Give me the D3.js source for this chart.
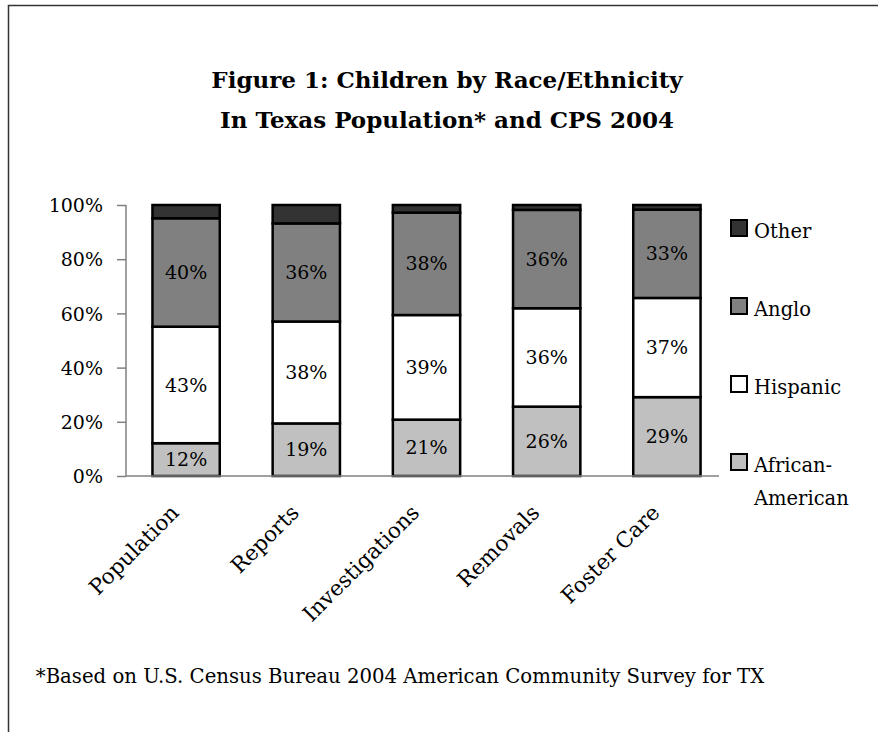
<!DOCTYPE html>
<html>
<head>
<meta charset="utf-8">
<script src="https://cdn.jsdelivr.net/npm/d3@7"></script>
<style>
  body { margin: 0; background: #fff; }
  svg text { font-family: "Palatino Linotype", "Book Antiqua", Palatino, "DejaVu Serif", serif; }
</style>
</head>
<body>
<div class="canvas"></div>
<script>
// categories and series (percent of children)
const categories = ['Population', 'Reports', 'Investigations', 'Removals', 'Foster Care'];
const africanAmerican = [12.1, 19.4, 20.8, 25.6, 29.1];
const hispanic = [43.0, 37.6, 38.6, 36.3, 36.6];
const anglo = [40.0, 36.2, 37.8, 36.3, 32.6];
const other = [4.9, 6.8, 2.8, 1.8, 1.7];
const seriesNames = ['African-American', 'Hispanic', 'Anglo', 'Other'];
const yTicks = [0, 20, 40, 60, 80, 100];

const titleLines = ['Figure 1: Children by Race/Ethnicity', 'In Texas Population* and CPS 2004'];
const footnote = '*Based on U.S. Census Bureau 2004 American Community Survey for TX';

const width = 878, height = 732;
const margin = {top: 205, left: 126, bottom: 256, right: 152};

const svg = d3.select('.canvas')
    .append('svg')
    .attr('width', width)
    .attr('height', height);

// frame lines (left and top)
svg.append('path')
    .attr('d', `M8.5,${height} V5.5 H${width}`)
    .attr('fill', 'none')
    .attr('stroke', '#333')
    .attr('stroke-width', 1.5);

// title
svg.append('g').selectAll('text')
    .data(titleLines)
    .enter().append('text')
    .attr('x', 447)
    .attr('y', (d, i) => 88 + i * 40)
    .attr('text-anchor', 'middle')
    .attr('font-weight', 'bold')
    .attr('font-size', 23)
    .text(d => d);

// table rows for stacking
const table = categories.map((c, i) => ({
    name: c,
    'African-American': africanAmerican[i],
    'Hispanic': hispanic[i],
    'Anglo': anglo[i],
    'Other': other[i]
}));

const stacked = d3.stack().keys(seriesNames)(table);

const colors = d3.scaleOrdinal()
    .domain(seriesNames)
    .range(['#c0c0c0', '#ffffff', '#808080', '#333333']);

const graphHeight = height - margin.top - margin.bottom;

const x = d3.scaleBand()
    .domain(categories)
    .range([margin.left, margin.left + 601])
    .paddingInner(0.44)
    .paddingOuter(0.22);

const y = d3.scaleLinear()
    .domain([0, 100])
    .range([margin.top + graphHeight, margin.top]);

// y axis
const yAxisGroup = svg.append('g')
    .attr('transform', `translate(${margin.left}, 0)`)
    .call(d3.axisLeft(y).tickValues(yTicks).tickSize(9).tickFormat(d => d + '%'));

yAxisGroup.select('.domain').attr('stroke', '#808080').attr('stroke-width', 1.5)
    .attr('d', `M0,${y(100)}V${y(0)}`);
yAxisGroup.selectAll('.tick line').attr('stroke', '#808080').attr('stroke-width', 1.5);
yAxisGroup.selectAll('.tick text')
    .attr('x', -23)
    .attr('dy', '0.35em')
    .attr('font-size', 19)
    .attr('fill', '#000');

// bars
const layers = svg.append('g').selectAll('g')
    .data(stacked)
    .enter().append('g')
    .attr('fill', d => colors(d.key));

layers.selectAll('rect')
    .data(d => d)
    .enter().append('rect')
    .attr('x', d => x(d.data.name))
    .attr('width', x.bandwidth())
    .attr('y', d => y(d[1]))
    .attr('height', d => y(d[0]) - y(d[1]))
    .attr('stroke', '#000')
    .attr('stroke-width', 2.5);

// x axis line
svg.append('line')
    .attr('x1', margin.left)
    .attr('x2', 719)
    .attr('y1', y(0))
    .attr('y2', y(0))
    .attr('stroke', '#808080')
    .attr('stroke-width', 1.5);

// value labels (skip "Other")
const fmt = d3.format('.0f');
stacked.filter(s => s.key !== 'Other').forEach(s => {
    svg.append('g').selectAll('text')
        .data(s)
        .enter().append('text')
        .attr('x', d => x(d.data.name) + x.bandwidth() / 2)
        .attr('y', d => (y(d[0]) + y(d[1])) / 2)
        .attr('dy', '0.35em')
        .attr('text-anchor', 'middle')
        .attr('font-size', 19)
        .text(d => fmt(d[1] - d[0]) + '%');
});

// category labels, rotated
svg.append('g').selectAll('text')
    .data(categories)
    .enter().append('text')
    .attr('transform', d => `translate(${x(d) + x.bandwidth() / 2 - 6}, ${y(0) + 38}) rotate(-45)`)
    .attr('text-anchor', 'end')
    .attr('font-size', 21.5)
    .text(d => d);

// legend, top to bottom reversed
const legendItems = seriesNames.slice().reverse();
const legend = svg.append('g').selectAll('g')
    .data(legendItems)
    .enter().append('g')
    .attr('transform', (d, i) => `translate(731, ${220 + i * 78})`);

legend.append('rect')
    .attr('width', 16)
    .attr('height', 16)
    .attr('fill', d => colors(d))
    .attr('stroke', '#000')
    .attr('stroke-width', 2);

legend.append('text')
    .attr('x', 23)
    .attr('y', 18)
    .attr('font-size', 19.5)
    .each(function(d) {
        const parts = d === 'African-American' ? ['African-', 'American'] : [d];
        d3.select(this).selectAll('tspan')
            .data(parts)
            .enter().append('tspan')
            .attr('x', 23)
            .attr('dy', (p, i) => i === 0 ? 0 : 33)
            .text(p => p);
    });

// footnote
svg.append('text')
    .attr('x', 400)
    .attr('y', 683)
    .attr('text-anchor', 'middle')
    .attr('font-size', 19.7)
    .text(footnote);
</script>
</body>
</html>
